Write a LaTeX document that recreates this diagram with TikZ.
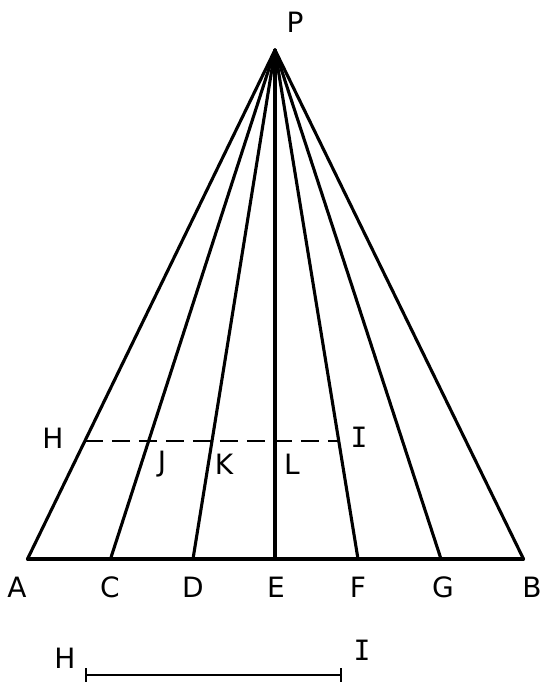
\documentclass[tikz,border=0pt]{standalone}
\usepackage{fontspec}
\setmainfont{DejaVu Sans}
\newfontfamily\monoI{DejaVu Sans Mono}
\usetikzlibrary{calc}
\begin{document}
\begin{tikzpicture}[x=1pt,y=-1pt,
  ln/.style={line width=3.1pt,line cap=round,line join=round},
  dsh/.style={line width=2.6pt,dash pattern=on 18pt off 9pt},
  lbl/.style={font=\fontsize{28}{28}\selectfont\mdseries,inner sep=0pt}]
\useasboundingbox (0,0) rectangle (541,686);
\coordinate (P) at (275,50);
\coordinate (A) at (27.5,559);
\coordinate (C) at (110.5,559);
\coordinate (D) at (193,559);
\coordinate (E) at (275,559);
\coordinate (F) at (358,559);
\coordinate (G) at (441,559);
\coordinate (B) at (523.5,559);
\foreach \n in {A,C,D,E,F,G,B} {\draw[ln] (P) -- (\n);}
\draw[ln] (A) -- (B);
\coordinate (Hd) at ($(P)!0.768!(A)$);
\coordinate (Id) at ($(P)!0.768!(F)$);
\draw[dsh] (Hd) -- (Id);
\node[lbl] (lP) at (295,22) {P};
\node[lbl] (lA) at (17,587) {A};
\node[lbl] (lC) at (110,587) {C};
\node[lbl] (lD) at (193,587) {D};
\node[lbl] (lE) at (276,587) {E};
\node[lbl] (lF) at (358,587) {F};
\node[lbl] (lG) at (443,587) {G};
\node[lbl] (lB) at (532,587) {B};
\node[lbl] (lH) at (53,438) {H};
\node[lbl] (lI) at (359,437) {\monoI I};
\node[lbl] (lJ) at (162,464) {J};
\node[lbl] (lK) at (224,464) {K};
\node[lbl] (lL) at (292,464) {L};
\coordinate (h1) at (86,675);
\coordinate (i1) at (341,675);
\draw[line width=2.6pt] (h1) -- (i1);
\draw[line width=2.6pt] ($(h1)+(0,-7)$) -- ($(h1)+(0,7)$);
\draw[line width=2.6pt] ($(i1)+(0,-7)$) -- ($(i1)+(0,7)$);
\node[lbl] (lH2) at (65,658) {H};
\node[lbl] (lI2) at (362,650) {\monoI I};
\end{tikzpicture}
\end{document}
